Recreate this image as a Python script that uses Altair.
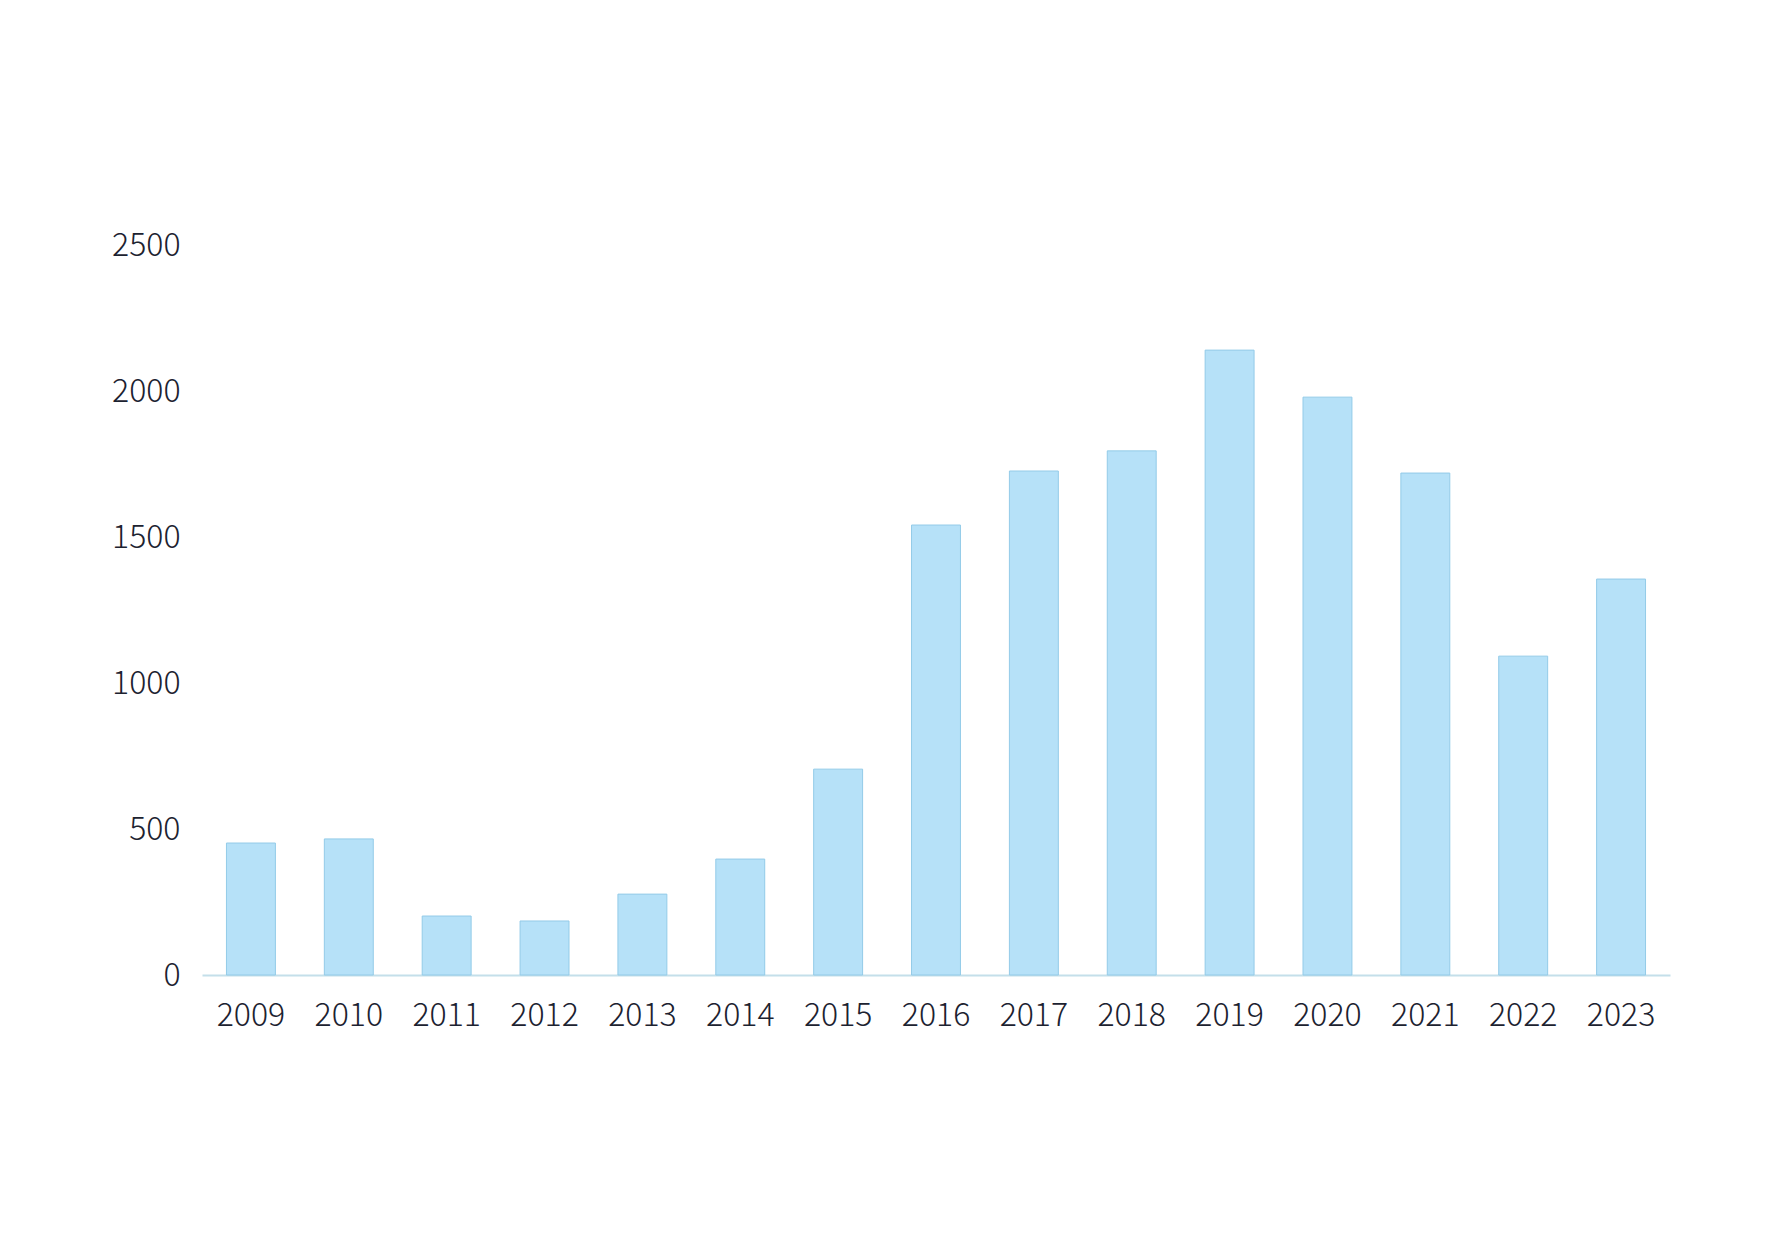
import altair as alt
import pandas as pd

years = ["2009", "2010", "2011", "2012", "2013", "2014", "2015", "2016",
         "2017", "2018", "2019", "2020", "2021", "2022", "2023"]
values = [452, 466, 202, 185, 277, 397, 705, 1541, 1726, 1795, 2140, 1979, 1719, 1092, 1356]
y_ticks = [0, 500, 1000, 1500, 2000, 2500]

df = pd.DataFrame({"year": years, "value": values})

FONT = "Noto Sans CJK SC"

chart = alt.Chart(df).mark_bar(
    color="#b6e1f8", stroke="#93cbe8", strokeWidth=1
).encode(
    x=alt.X("year:N", sort=years, title=None,
            scale=alt.Scale(paddingInner=0.5, paddingOuter=0.25),
            axis=alt.Axis(labelAngle=0, ticks=False, domain=True,
                          domainColor="#c4dfea", domainWidth=2,
                          labelPadding=25, labelFontSize=32,
                          labelColor="#1c2230", labelFont=FONT,
                          labelFontWeight=200)),
    y=alt.Y("value:Q", title=None,
            scale=alt.Scale(domain=[0, 2500], nice=False),
            axis=alt.Axis(values=y_ticks, grid=False, ticks=False, domain=False,
                          format="d",
                          labelPadding=22, labelFontSize=32,
                          labelColor="#1c2230", labelFont=FONT,
                          labelFontWeight=200)),
).properties(
    width=1468, height=730,
    background="white",
    autosize=alt.AutoSizeParams(type="none"),
    padding={"left": 194, "top": 237, "right": 80, "bottom": 200},
).configure_view(strokeWidth=0, stroke=None)

chart.save("out.html", embed_options={"renderer": "svg", "actions": False})
